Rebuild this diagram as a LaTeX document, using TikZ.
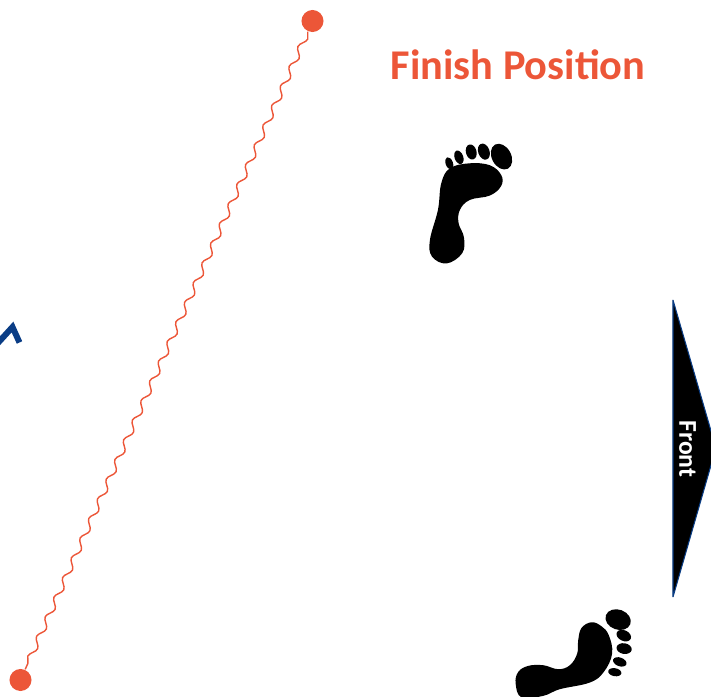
\documentclass[tikz,border=0pt]{standalone}
\usepackage{fontspec}
\setmainfont{Carlito}
\usetikzlibrary{decorations.pathmorphing}
\definecolor{accent1}{HTML}{EC5638}
\definecolor{accent2}{HTML}{0A3D85}
\tikzset{
  dotnode/.style={circle, fill=accent1, inner sep=0pt, minimum size=0.22cm},
  wavyline/.style={draw=accent1, line width=0.4pt, decorate, decoration={snake, amplitude=0.03cm, segment length=0.215cm}},
  footsole/.style={fill=black, draw=none},
}
\begin{document}
\begin{tikzpicture}[x=0.01cm,y=-0.01cm]
\useasboundingbox (0,0) rectangle (711,697);
\clip (0,0) rectangle (711,697);
\node[dotnode] (topdot) at (312.5,21) {};
\node[dotnode] (bottomdot) at (20.5,680) {};
\draw[wavyline] (topdot) -- (bottomdot);
\node[text=accent1, font=\fontsize{12.05pt}{14pt}\bfseries] (finishtitle) at (518,64.5) {Finish Position};
% upper foot
\begin{scope}[shift={(410,130)},x=0.00333cm,y=-0.00333cm]
\fill[footsole] plot[smooth cycle, tension=0.65] coordinates {(180,100) (240,106) (274,135) (274,168) (240,197) (180,210) (150,240) (146,280) (162,322) (157,370) (110,401) (66,380) (60,330) (84,240) (94,160) (120,115)};
\fill[footsole] (275,80) ellipse [x radius=29, y radius=41, rotate=28];
\fill[footsole] (222,65) ellipse [x radius=17, y radius=25, rotate=20];
\fill[footsole] (184,66) ellipse [x radius=16, y radius=23, rotate=15];
\fill[footsole] (147,82) ellipse [x radius=13, y radius=21, rotate=20];
\fill[footsole] (118,100) ellipse [x radius=11, y radius=19, rotate=20];
\end{scope}
% lower foot
\begin{scope}[shift={(500,597)},x=0.00333cm,y=-0.00333cm]
\fill[footsole] plot[smooth cycle, tension=0.65] coordinates {(275,76) (245,93) (235,130) (232,170) (210,205) (175,217) (130,205) (85,207) (55,225) (47,260) (65,302) (130,297) (180,277) (270,257) (312,225) (337,170) (327,115) (305,88)};
\fill[footsole] (355,68) ellipse [x radius=39, y radius=30, rotate=-20];
\fill[footsole] (372,116) ellipse [x radius=23, y radius=16, rotate=-25];
\fill[footsole] (373,155) ellipse [x radius=23, y radius=16, rotate=-10];
\fill[footsole] (360,195) ellipse [x radius=21, y radius=13, rotate=-20];
\fill[footsole] (345,226) ellipse [x radius=20, y radius=12, rotate=-10];
\end{scope}
\draw[fill=black, draw=accent2, line width=0.3pt, line join=bevel] (673,300) -- (716,448) -- (673,597) -- cycle;
\node[text=white, rotate=-90, font=\fontsize{7.3pt}{8pt}\bfseries] (frontlabel) at (687.5,449) {Front};
\draw[draw=accent2, line width=1.7pt] (-3,344) -- (12.5,327) -- (19.5,342.5);
\end{tikzpicture}
\end{document}
